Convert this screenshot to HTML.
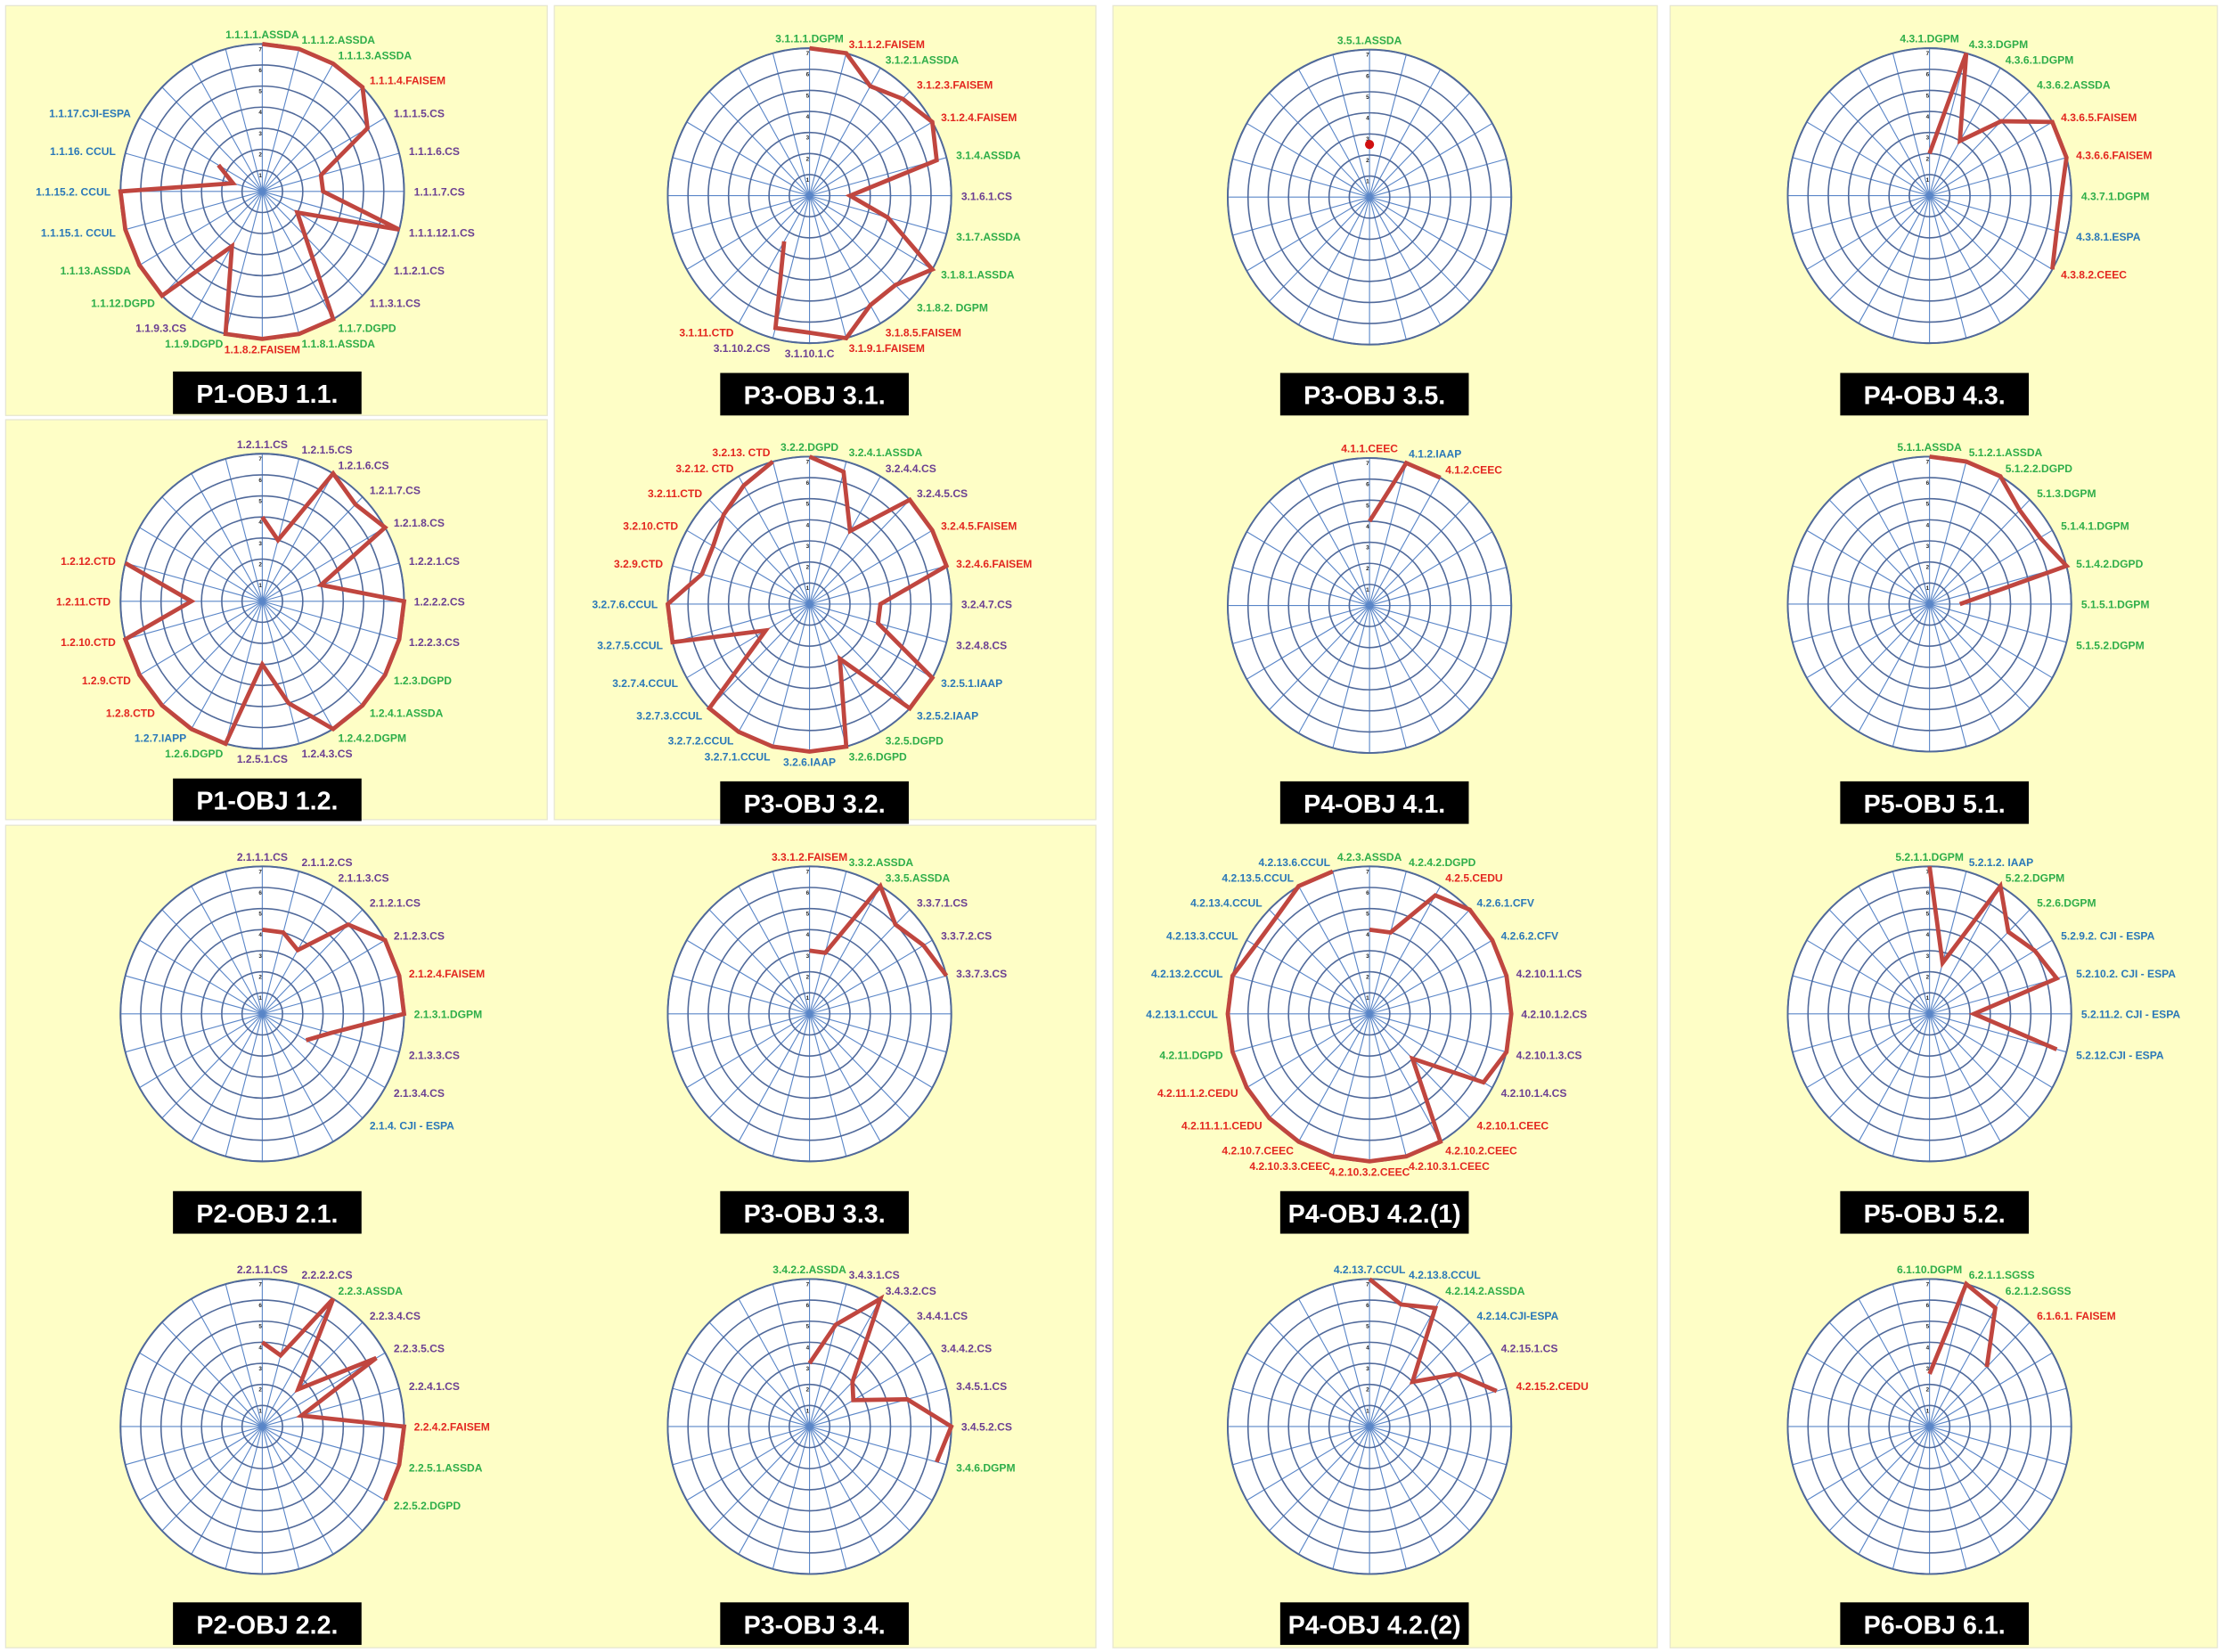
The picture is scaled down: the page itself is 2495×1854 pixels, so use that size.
<!DOCTYPE html>
<html><head><meta charset="utf-8"><title>Radar charts</title>
<style>
html,body{margin:0;padding:0;background:#fff;}
svg{display:block;}
text{font-family:"Liberation Sans",sans-serif;}
</style></head>
<body>
<svg id="root" xmlns="http://www.w3.org/2000/svg" width="2495" height="1854" viewBox="0 0 1568 1165" preserveAspectRatio="none">
<g id="panels"></g>
<g id="charts"></g>
</svg>
<script>
// ---- data: labels and values per chart (values 0..7, null = no point) ----
const c11Labels=["1.1.1.1.ASSDA","1.1.1.2.ASSDA","1.1.1.3.ASSDA","1.1.1.4.FAISEM","1.1.1.5.CS","1.1.1.6.CS","1.1.1.7.CS","1.1.1.12.1.CS","1.1.2.1.CS","1.1.3.1.CS","1.1.7.DGPD","1.1.8.1.ASSDA","1.1.8.2.FAISEM","1.1.9.DGPD","1.1.9.3.CS","1.1.12.DGPD","1.1.13.ASSDA","1.1.15.1. CCUL","1.1.15.2. CCUL","1.1.16. CCUL","1.1.17.CJI-ESPA"];
const c11Values=[7,7,7,7,6,3,3,7,2,3,7,7,7,7,3,7,7,7,7,1.5,2.5];
const c31Labels=["3.1.1.1.DGPM","3.1.1.2.FAISEM","3.1.2.1.ASSDA","3.1.2.3.FAISEM","3.1.2.4.FAISEM","3.1.4.ASSDA","3.1.6.1.CS","3.1.7.ASSDA","3.1.8.1.ASSDA","3.1.8.2. DGPM","3.1.8.5.FAISEM","3.1.9.1.FAISEM","3.1.10.1.C","3.1.10.2.CS","3.1.11.CTD"];
const c31Values=[7,7,6,6.5,7,6.5,2,4,7,6,6,7,6.5,6.5,2.5];
const c35Labels=["3.5.1.ASSDA"];
const c35Values=[2.5];
const c43Labels=["4.3.1.DGPM","4.3.3.DGPM","4.3.6.1.DGPM","4.3.6.2.ASSDA","4.3.6.5.FAISEM","4.3.6.6.FAISEM","4.3.7.1.DGPM","4.3.8.1.ESPA","4.3.8.2.CEEC"];
const c43Values=[2,7,3,5,7,7,6.5,6.5,7];
const c12Labels=["1.2.1.1.CS","1.2.1.5.CS","1.2.1.6.CS","1.2.1.7.CS","1.2.1.8.CS","1.2.2.1.CS","1.2.2.2.CS","1.2.2.3.CS","1.2.3.DGPD","1.2.4.1.ASSDA","1.2.4.2.DGPM","1.2.4.3.CS","1.2.5.1.CS","1.2.6.DGPD","1.2.7.IAPP","1.2.8.CTD","1.2.9.CTD","1.2.10.CTD","1.2.11.CTD","1.2.12.CTD"];
const c12Values=[4,3,7,6.5,7,3,7,7,7,7,7,5,3,7,7,7,7,7,3.5,7];
const c32Labels=["3.2.2.DGPD","3.2.4.1.ASSDA","3.2.4.4.CS","3.2.4.5.CS","3.2.4.5.FAISEM","3.2.4.6.FAISEM","3.2.4.7.CS","3.2.4.8.CS","3.2.5.1.IAAP","3.2.5.2.IAAP","3.2.5.DGPD","3.2.6.DGPD","3.2.6.IAAP","3.2.7.1.CCUL","3.2.7.2.CCUL","3.2.7.3.CCUL","3.2.7.4.CCUL","3.2.7.5.CCUL","3.2.7.6.CCUL","3.2.9.CTD","3.2.10.CTD","3.2.11.CTD","3.2.12. CTD","3.2.13. CTD"];
const c32Values=[7,6.5,4,7,7,7,3.5,3.5,7,7,3,7,7,7,7,7,2.5,7,7,5.5,5.5,6,6.5,7];
const c41Labels=["4.1.1.CEEC","4.1.2.IAAP","4.1.2.CEEC"];
const c41Values=[4,7,7];
const c51Labels=["5.1.1.ASSDA","5.1.2.1.ASSDA","5.1.2.2.DGPD","5.1.3.DGPM","5.1.4.1.DGPM","5.1.4.2.DGPD","5.1.5.1.DGPM","5.1.5.2.DGPM"];
const c51Values=[7,7,7,6.3,6.3,7,1.5,null];
const c21Labels=["2.1.1.1.CS","2.1.1.2.CS","2.1.1.3.CS","2.1.2.1.CS","2.1.2.3.CS","2.1.2.4.FAISEM","2.1.3.1.DGPM","2.1.3.3.CS","2.1.3.4.CS","2.1.4. CJI - ESPA"];
const c21Values=[4,4,3.5,6,7,7,7,3.5,2.5,null];
const c33Labels=["3.3.1.2.FAISEM","3.3.2.ASSDA","3.3.5.ASSDA","3.3.7.1.CS","3.3.7.2.CS","3.3.7.3.CS"];
const c33Values=[3,3,7,6,6.5,7];
const c421Labels=["4.2.3.ASSDA","4.2.4.2.DGPD","4.2.5.CEDU","4.2.6.1.CFV","4.2.6.2.CFV","4.2.10.1.1.CS","4.2.10.1.2.CS","4.2.10.1.3.CS","4.2.10.1.4.CS","4.2.10.1.CEEC","4.2.10.2.CEEC","4.2.10.3.1.CEEC","4.2.10.3.2.CEEC","4.2.10.3.3.CEEC","4.2.10.7.CEEC","4.2.11.1.1.CEDU","4.2.11.1.2.CEDU","4.2.11.DGPD","4.2.13.1.CCUL","4.2.13.2.CCUL","4.2.13.3.CCUL","4.2.13.4.CCUL","4.2.13.5.CCUL","4.2.13.6.CCUL"];
const c421Values=[4,4,6.5,7,7,7,7,7,6.5,3,7,7,7,7,7,7,7,7,7,7,6.5,6.5,7,7];
const c52Labels=["5.2.1.1.DGPM","5.2.1.2. IAAP","5.2.2.DGPM","5.2.6.DGPM","5.2.9.2. CJI - ESPA","5.2.10.2. CJI - ESPA","5.2.11.2. CJI - ESPA","5.2.12.CJI - ESPA"];
const c52Values=[7,2.5,7,5.5,6,6.5,2.2,6.5];
const c22Labels=["2.2.1.1.CS","2.2.2.2.CS","2.2.3.ASSDA","2.2.3.4.CS","2.2.3.5.CS","2.2.4.1.CS","2.2.4.2.FAISEM","2.2.5.1.ASSDA","2.2.5.2.DGPD"];
const c22Values=[4,3.5,7,2.5,6.5,2,7,7,7];
const c34Labels=["3.4.2.2.ASSDA","3.4.3.1.CS","3.4.3.2.CS","3.4.4.1.CS","3.4.4.2.CS","3.4.5.1.CS","3.4.5.2.CS","3.4.6.DGPM"];
const c34Values=[3,5,7,3,2.5,5,7,6.5];
const c422Labels=["4.2.13.7.CCUL","4.2.13.8.CCUL","4.2.14.2.ASSDA","4.2.14.CJI-ESPA","4.2.15.1.CS","4.2.15.2.CEDU"];
const c422Values=[7,6,6.5,3,5,6.5];
const c61Labels=["6.1.10.DGPM","6.2.1.1.SGSS","6.2.1.2.SGSS","6.1.6.1. FAISEM"];
const c61Values=[2.5,7,6.5,4];
const ringTicks=["1","2","3","4","5","6","7"];

// ---- layout ----
const NS="http://www.w3.org/2000/svg";
const N=24, VMAX=7, RX=100, RY=104;
const charts=[
 {id:"p1-obj-1-1",title:"P1-OBJ 1.1.",cx:185,cy:135,ty:262,L:c11Labels,V:c11Values},
 {id:"p3-obj-3-1",title:"P3-OBJ 3.1.",cx:571,cy:138,ty:263,L:c31Labels,V:c31Values},
 {id:"p3-obj-3-5",title:"P3-OBJ 3.5.",cx:966,cy:139,ty:263,L:c35Labels,V:c35Values},
 {id:"p4-obj-4-3",title:"P4-OBJ 4.3.",cx:1361,cy:138,ty:263,L:c43Labels,V:c43Values},
 {id:"p1-obj-1-2",title:"P1-OBJ 1.2.",cx:185,cy:424,ty:549,L:c12Labels,V:c12Values},
 {id:"p3-obj-3-2",title:"P3-OBJ 3.2.",cx:571,cy:426,ty:551,L:c32Labels,V:c32Values},
 {id:"p4-obj-4-1",title:"P4-OBJ 4.1.",cx:966,cy:427,ty:551,L:c41Labels,V:c41Values},
 {id:"p5-obj-5-1",title:"P5-OBJ 5.1.",cx:1361,cy:426,ty:551,L:c51Labels,V:c51Values},
 {id:"p2-obj-2-1",title:"P2-OBJ 2.1.",cx:185,cy:715,ty:840,L:c21Labels,V:c21Values},
 {id:"p3-obj-3-3",title:"P3-OBJ 3.3.",cx:571,cy:715,ty:840,L:c33Labels,V:c33Values},
 {id:"p4-obj-4-2-1",title:"P4-OBJ 4.2.(1)",cx:966,cy:715,ty:840,L:c421Labels,V:c421Values},
 {id:"p5-obj-5-2",title:"P5-OBJ 5.2.",cx:1361,cy:715,ty:840,L:c52Labels,V:c52Values},
 {id:"p2-obj-2-2",title:"P2-OBJ 2.2.",cx:185,cy:1006,ty:1130,L:c22Labels,V:c22Values},
 {id:"p3-obj-3-4",title:"P3-OBJ 3.4.",cx:571,cy:1006,ty:1130,L:c34Labels,V:c34Values},
 {id:"p4-obj-4-2-2",title:"P4-OBJ 4.2.(2)",cx:966,cy:1006,ty:1130,L:c422Labels,V:c422Values},
 {id:"p6-obj-6-1",title:"P6-OBJ 6.1.",cx:1361,cy:1006,ty:1130,L:c61Labels,V:c61Values}
];
const panels=[[4,4,382,289],[4,296,382,282],[391,4,382,574],[4,582,769,580],[785,4,384,1158],[1178,4,386,1158]];

function mk(tag,attrs,parent){const e=document.createElementNS(NS,tag);for(const k in attrs)e.setAttribute(k,attrs[k]);parent.appendChild(e);return e;}
function colorFor(lbl){
  if(/FAISEM|CTD|CEEC|CEDU/.test(lbl))return "#e3261f";
  if(/ASSDA|DGPD|DGPM|SGSS/.test(lbl))return "#2fae4a";
  if(/CCUL|ESPA|IAAP|IAPP|CFV/.test(lbl))return "#2a78b8";
  return "#6b3f92";
}
function ang(i){return i*2*Math.PI/N;}
function px(c,i,v){return c.cx+Math.sin(ang(i))*RX*v/VMAX;}
function py(c,i,v){return c.cy-Math.cos(ang(i))*RY*v/VMAX;}

const pg=document.getElementById('panels');
panels.forEach(p=>{
  const r=mk('rect',{x:p[0],y:p[1],width:p[2],height:p[3],fill:'#fefec6',stroke:'#e6e6d0','stroke-width':0.8},pg);
  
  
});

const cg=document.getElementById('charts');
charts.forEach(c=>{
  const g=mk('g',{},cg);
  
  
  const bg=mk('ellipse',{cx:c.cx,cy:c.cy,rx:RX,ry:RY,fill:'#ffffff',stroke:'#7f8fa8','stroke-width':1.2},g);
  
  
  for(let i=0;i<N;i++){
    const s=mk('line',{x1:c.cx,y1:c.cy,x2:px(c,i,VMAX),y2:py(c,i,VMAX),stroke:'#5a86c8','stroke-width':0.7},g);
    
    
  }
  ringTicks.forEach((t,k)=>{
    const v=k+1;
    const e=mk('ellipse',{cx:c.cx,cy:c.cy,rx:RX*v/VMAX,ry:RY*v/VMAX,fill:'none',stroke:'#50699a','stroke-width':v===7?1.2:1},g);
    
    
    const tt=mk('text',{x:c.cx-2.5,y:c.cy-RY*v/VMAX+5,'font-size':4,'font-weight':'bold',fill:'#222'},g);
    tt.textContent=t;
    
    
  });
  // series
  const pts=[];
  c.V.forEach((v,i)=>{if(v!==null&&v!==undefined)pts.push(px(c,i,v).toFixed(1)+','+py(c,i,v).toFixed(1));});
  if(pts.length>1){
    const pl=mk('polyline',{points:pts.join(' '),fill:'none',stroke:'#c0463f','stroke-width':3,'stroke-linejoin':'miter'},g);
    
    
  } else if(pts.length===1){
    const v=c.V[0];
    const d=mk('circle',{cx:px(c,0,v),cy:py(c,0,v),r:3.2,fill:'#d01010'},g);
    
    
  }
  // labels
  c.L.forEach((lbl,i)=>{
    const a=ang(i), s=Math.sin(a), co=Math.cos(a);
    const lx=c.cx+s*(RX+7), ly=c.cy-co*(RY+7)+3;
    const anchor=s>0.2?'start':(s<-0.2?'end':'middle');
    const t=mk('text',{x:lx.toFixed(1),y:ly.toFixed(1),'font-size':7.6,'font-weight':'bold','text-anchor':anchor,fill:colorFor(lbl)},g);
    t.textContent=lbl;
    
    
  });
  // title box
  const bx=mk('rect',{x:c.cx-63,y:c.ty,width:133,height:30,fill:'#000'},g);
  
  
  const tl=mk('text',{x:c.cx+3.5,y:c.ty+22,'font-size':18,'font-weight':'bold','text-anchor':'middle',fill:'#fff'},g);
  tl.textContent=c.title;
  
  
});
</script>
</body></html>
